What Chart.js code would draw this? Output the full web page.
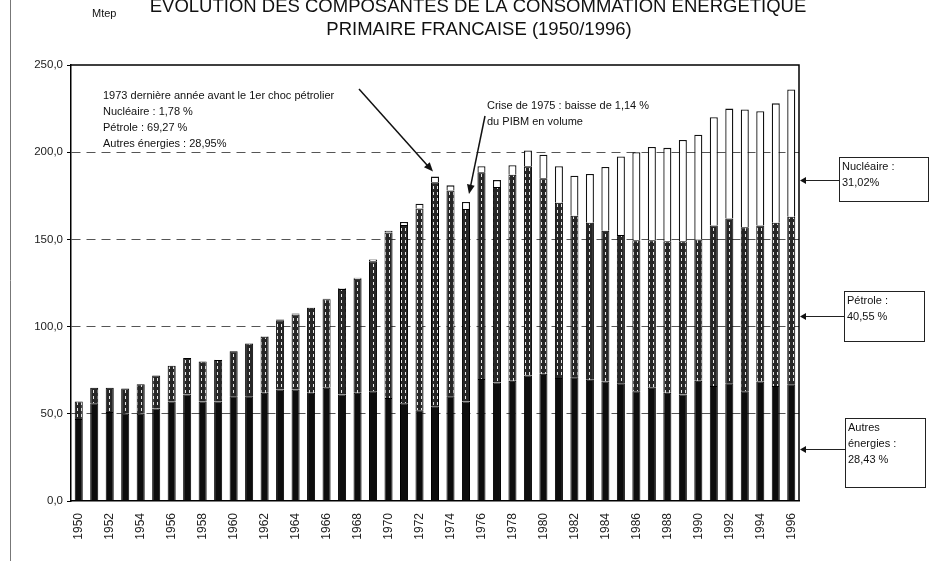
<!DOCTYPE html>
<html>
<head>
<meta charset="utf-8">
<script src="https://cdn.jsdelivr.net/npm/chart.js@4"></script>
<style>
  body { margin: 0; background: #fff; }
  #cadre { width: 929px; height: 561px; position: relative; }
</style>
</head>
<body>
<div id="cadre"><canvas id="graphe"></canvas></div>
<script>
// annees de 1950 a 1996
const annees = [1950, 1951, 1952, 1953, 1954, 1955, 1956, 1957, 1958, 1959,
  1960, 1961, 1962, 1963, 1964, 1965, 1966, 1967, 1968, 1969,
  1970, 1971, 1972, 1973, 1974, 1975, 1976, 1977, 1978, 1979,
  1980, 1981, 1982, 1983, 1984, 1985, 1986, 1987, 1988, 1989,
  1990, 1991, 1992, 1993, 1994, 1995, 1996];

// Mtep
const autres = [47, 56, 51, 50, 50, 53, 57, 61, 57, 57,
  60, 60, 62, 64, 64, 62, 65, 61, 62, 63,
  59, 56, 52, 54, 60, 57, 70, 68, 69, 72,
  73, 70.5, 71, 69.5, 68.5, 67.5, 63, 65, 62, 61,
  69, 66, 67.5, 63, 68.5, 66, 67];

const petrole = [10, 9, 14, 14.5, 17, 19, 20.5, 21, 23, 23.9,
  25.9, 30.3, 32.2, 39.7, 42.9, 48.8, 50.7, 60.6, 65.4, 74.5,
  94.9, 102.2, 115.7, 128.7, 118, 110.5, 118.5, 112, 118, 120,
  112, 100.5, 92.5, 90, 86.5, 85, 86.5, 84.5, 87, 88,
  81, 92, 94.5, 94, 89.5, 93.5, 96];

const nucleaire = [0, 0, 0, 0, 0, 0, 0, 0, 0, 0.1,
  0.1, 0.2, 0.3, 0.3, 0.6, 0.2, 0.3, 0.4, 0.6, 1,
  1.1, 1.8, 2.8, 3.3, 3, 4, 3.5, 4, 5.5, 9,
  13.5, 21, 23, 28, 36.5, 45, 50.5, 53.5, 53.5, 58,
  60, 62, 63, 67.5, 65.5, 68.5, 73];

const titre = ["EVOLUTION DES COMPOSANTES DE LA CONSOMMATION ENERGETIQUE",
  "PRIMAIRE FRANCAISE (1950/1996)"];
const note1973 = ["1973 dernière année avant le 1er choc pétrolier",
  "Nucléaire : 1,78 %", "Pétrole : 69,27 %", "Autres énergies : 28,95%"];
const note1975 = ["Crise de 1975 : baisse de 1,14 %", "du PIBM en volume"];
const parts1996 = [
  { lignes: ["Nucléaire :", "31,02%"], niveau: 184, boite: [839, 157, 89, 44] },
  { lignes: ["Pétrole :", "40,55 %"], niveau: 106, boite: [844, 291, 80, 50] },
  { lignes: ["Autres", "énergies :", "28,43 %"], niveau: 30, boite: [845, 418, 80, 69] }
];

const police = "'Liberation Sans', Arial, sans-serif";

// motif hachure pour le petrole
function hachure() {
  let c = document.createElement("canvas");
  c.width = 4; c.height = 6;
  let g = c.getContext("2d");
  g.fillStyle = "#262626";
  g.fillRect(0, 0, 4, 6);
  g.fillStyle = "#e6e6e6";
  g.fillRect(1, 0, 1, 3);
  return g.createPattern(c, "repeat");
}

function fleche(ctx, x1, y1, x2, y2, taille) {
  let a = Math.atan2(y2 - y1, x2 - x1);
  ctx.beginPath();
  ctx.moveTo(x1, y1);
  ctx.lineTo(x2 - Math.cos(a) * taille * 0.8, y2 - Math.sin(a) * taille * 0.8);
  ctx.stroke();
  ctx.beginPath();
  ctx.moveTo(x2, y2);
  ctx.lineTo(x2 - taille * Math.cos(a - 0.4), y2 - taille * Math.sin(a - 0.4));
  ctx.lineTo(x2 - taille * Math.cos(a + 0.4), y2 - taille * Math.sin(a + 0.4));
  ctx.closePath();
  ctx.fill();
}

//plugin pour les textes, le cadre et les fleches
const decor = {
  id: "decor",
  afterDraw(chart) {
    let ctx = chart.ctx;
    let zone = chart.chartArea;
    let sx = chart.scales.x, sy = chart.scales.y;
    ctx.save();

    // trait vertical du scan a gauche
    ctx.strokeStyle = "#777";
    ctx.lineWidth = 1;
    ctx.beginPath(); ctx.moveTo(10.5, 0); ctx.lineTo(10.5, 561); ctx.stroke();

    // cadre haut et droite
    ctx.strokeStyle = "#000";
    ctx.lineWidth = 1.5;
    ctx.beginPath();
    ctx.moveTo(zone.left, zone.top);
    ctx.lineTo(zone.right, zone.top);
    ctx.lineTo(zone.right, zone.bottom);
    ctx.stroke();

    // titre
    ctx.fillStyle = "#111";
    ctx.textAlign = "center";
    ctx.textBaseline = "middle";
    ctx.font = "18.5px " + police;
    ctx.fillText(titre[0], 478, 7);
    ctx.fillText(titre[1], 479, 30);

    ctx.textAlign = "left";
    ctx.font = "11px " + police;
    ctx.fillText("Mtep", 92, 14);

    // notes 1973 et 1975
    note1973.forEach((t, i) => ctx.fillText(t, 103, 96 + i * 16));
    note1975.forEach((t, i) => ctx.fillText(t, 487, 106 + i * 16));

    ctx.strokeStyle = "#111";
    ctx.fillStyle = "#111";
    ctx.lineWidth = 1.5;
    let x73 = sx.getPixelForValue(annees.indexOf(1973));
    let y73 = sy.getPixelForValue(autres[23] + petrole[23] + nucleaire[23]);
    fleche(ctx, 359, 89, x73 - 2, y73 - 5, 10);
    let x75 = sx.getPixelForValue(annees.indexOf(1975));
    let y75 = sy.getPixelForValue(autres[25] + petrole[25] + nucleaire[25]);
    fleche(ctx, 485, 116, x75 + 3, y75 - 8, 10);

    // boites a droite
    ctx.lineWidth = 1;
    ctx.font = "11px " + police;
    parts1996.forEach(p => {
      let [bx, by, bw, bh] = p.boite;
      let y = Math.round(sy.getPixelForValue(p.niveau)) + 0.5;
      ctx.strokeStyle = "#222";
      ctx.beginPath(); ctx.moveTo(zone.right + 4, y); ctx.lineTo(bx, y); ctx.stroke();
      ctx.beginPath();
      ctx.moveTo(zone.right + 1, y);
      ctx.lineTo(zone.right + 7, y - 3.5);
      ctx.lineTo(zone.right + 7, y + 3.5);
      ctx.closePath();
      ctx.fill();
      ctx.strokeRect(bx + 0.5, by + 0.5, bw, bh);
      p.lignes.forEach((t, i) => ctx.fillText(t, bx + 3, by + 10 + i * 16));
    });
    ctx.restore();
  }
};

let graphe = new Chart(document.getElementById("graphe"), {
  type: "bar",
  data: {
    labels: annees,
    datasets: [
      {
        label: "Autres énergies",
        data: autres,
        backgroundColor: "#0d0d0d",
        borderColor: "#000",
        borderWidth: 1,
        stack: "energie",
      },
      {
        label: "Pétrole",
        data: petrole,
        backgroundColor: hachure(),
        borderColor: "#000",
        borderWidth: 1,
        stack: "energie",
      },
      {
        label: "Nucléaire",
        data: nucleaire,
        backgroundColor: "#fff",
        borderColor: "#111",
        borderWidth: 1.3,
        stack: "energie",
      },
    ],
  },
  options: {
    responsive: true,
    maintainAspectRatio: false,
    animation: false,
    layout: { padding: { top: 65, right: 130, left: 0, bottom: 0 } },
    datasets: { bar: { barPercentage: 0.52, categoryPercentage: 1 } },
    plugins: {
      legend: { display: false },
      title: { display: false },
      tooltip: { enabled: false },
    },
    scales: {
      x: {
        stacked: true,
        offset: true,
        grid: { display: false },
        border: { display: true, color: "#000", width: 1.5 },
        ticks: {
          autoSkip: false,
          minRotation: 90,
          maxRotation: 90,
          padding: 4,
          color: "#222",
          font: { family: police, size: 12 },
          callback: (v, i) => (i % 2 === 0 ? annees[i] : ""),
        },
        afterFit: (s) => { s.height = 60; },
      },
      y: {
        stacked: true,
        min: 0,
        max: 250,
        grid: {
          color: (c) => (c.tick && (c.tick.value === 0 || c.tick.value === 250) ? "rgba(0,0,0,0)" : "#555"),
          tickColor: "#000",
          tickLength: 4,
          lineWidth: 1,
        },
        border: { display: true, color: "#000", width: 1.5, dash: [9, 6] },
        ticks: {
          stepSize: 50,
          padding: 4,
          color: "#222",
          font: { family: police, size: 11.5 },
          callback: (v) => v.toFixed(1).replace(".", ","),
        },
        afterFit: (s) => { s.width = 71; },
      },
    },
  },
  plugins: [decor],
});
</script>
</body>
</html>
